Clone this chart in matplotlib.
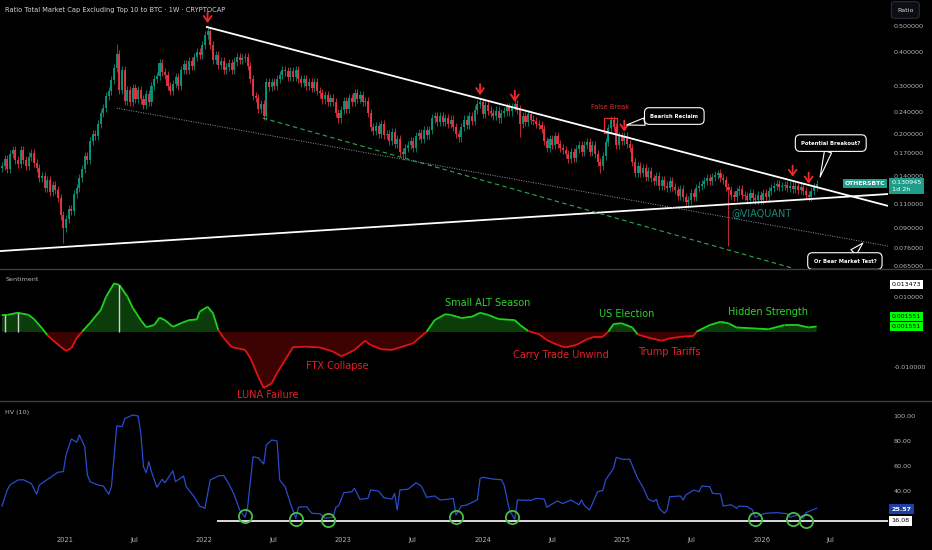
import numpy as np
import pandas as pd
import matplotlib
matplotlib.use('Agg')
import matplotlib.pyplot as plt
import matplotlib.dates as mdates
from matplotlib.patches import Rectangle
from matplotlib.lines import Line2D
from matplotlib.collections import LineCollection

# ---- data ----
# weekly closes OTHERS/BTC, first candle week of 2020-07-20
closes = [
    0.152, 0.162, 0.148, 0.168, 0.175, 0.160, 0.155, 0.174, 0.160, 0.152,
    0.165, 0.170, 0.156, 0.150, 0.138, 0.140, 0.126, 0.135, 0.122, 0.130,
    0.124, 0.116, 0.100, 0.090, 0.097, 0.106, 0.104, 0.120, 0.126, 0.138,
    0.148, 0.166, 0.160, 0.188, 0.200, 0.196, 0.218, 0.238, 0.250, 0.275,
    0.288, 0.315, 0.350, 0.395, 0.290, 0.345, 0.265, 0.290, 0.262, 0.295,
    0.270, 0.290, 0.268, 0.255, 0.280, 0.262, 0.300, 0.318, 0.328, 0.365,
    0.338, 0.330, 0.300, 0.288, 0.305, 0.325, 0.300, 0.345, 0.362, 0.345,
    0.372, 0.355, 0.385, 0.400, 0.392, 0.425, 0.465, 0.480, 0.425, 0.375,
    0.390, 0.358, 0.372, 0.345, 0.352, 0.365, 0.345, 0.370, 0.385, 0.375,
    0.380, 0.385, 0.355, 0.320, 0.275, 0.272, 0.248, 0.258, 0.232, 0.310,
    0.298, 0.312, 0.300, 0.320, 0.330, 0.345, 0.340, 0.325, 0.342, 0.325,
    0.345, 0.318, 0.308, 0.320, 0.300, 0.312, 0.296, 0.312, 0.288, 0.282,
    0.268, 0.278, 0.262, 0.272, 0.262, 0.238, 0.228, 0.245, 0.265, 0.248,
    0.272, 0.262, 0.282, 0.270, 0.278, 0.262, 0.265, 0.238, 0.212, 0.205,
    0.214, 0.200, 0.218, 0.198, 0.200, 0.188, 0.204, 0.183, 0.192, 0.172,
    0.168, 0.178, 0.182, 0.188, 0.178, 0.196, 0.202, 0.192, 0.206, 0.198,
    0.206, 0.228, 0.232, 0.222, 0.232, 0.222, 0.228, 0.218, 0.226, 0.212,
    0.200, 0.194, 0.212, 0.226, 0.216, 0.232, 0.224, 0.246, 0.258, 0.262,
    0.236, 0.256, 0.244, 0.238, 0.232, 0.244, 0.228, 0.238, 0.242, 0.252,
    0.242, 0.252, 0.258, 0.246, 0.218, 0.232, 0.222, 0.236, 0.226, 0.224,
    0.218, 0.216, 0.208, 0.188, 0.178, 0.192, 0.182, 0.196, 0.184, 0.178,
    0.174, 0.168, 0.162, 0.172, 0.163, 0.176, 0.182, 0.172, 0.182, 0.186,
    0.172, 0.182, 0.168, 0.158, 0.152, 0.166, 0.186, 0.210, 0.225, 0.212,
    0.182, 0.196, 0.188, 0.197, 0.184, 0.178, 0.158, 0.144, 0.152, 0.144,
    0.150, 0.139, 0.146, 0.138, 0.134, 0.140, 0.129, 0.135, 0.129, 0.126,
    0.134, 0.127, 0.124, 0.118, 0.125, 0.117, 0.112, 0.114, 0.121, 0.117,
    0.126, 0.129, 0.131, 0.134, 0.138, 0.134, 0.139, 0.141, 0.144, 0.137,
    0.135, 0.127, 0.124, 0.119, 0.117, 0.123, 0.125, 0.119, 0.118, 0.114,
    0.121, 0.116, 0.114, 0.119, 0.114, 0.121, 0.117, 0.123, 0.126, 0.128,
    0.131, 0.127, 0.128, 0.130, 0.126, 0.129, 0.125, 0.128, 0.124, 0.127,
    0.123, 0.119, 0.117, 0.123, 0.127, 0.1309,
]
first_open = 0.150
last_price_label = '0.130945'
wick_highs = {43: 0.430, 77: 0.500, 179: 0.270, 228: 0.232, 268: 0.147}
wick_lows = {23: 0.079, 98: 0.225, 150: 0.160, 194: 0.195, 224: 0.144,
             257: 0.107, 272: 0.077}

# red arrow markers (week index, tip price)
arrow_weeks = [77, 179, 192, 233, 296, 302]
arrow_tips = [0.513, 0.278, 0.263, 0.204, 0.139, 0.131]

# sentiment oscillator samples (week index, value)
sent_weeks = [0, 2, 6, 10, 12, 15, 17, 19, 22, 24, 26, 28, 30, 33, 37, 39, 42, 44,
              47, 49, 52, 54, 57, 59, 61, 64, 67, 70, 73, 74, 77, 79, 81, 83, 86,
              88, 91, 93, 96, 98, 101, 103, 106, 109, 114, 119, 124, 127, 129,
              132, 136, 138, 142, 146, 149, 154, 159, 162, 166, 168, 172, 176,
              179, 182, 186, 192, 194, 197, 201, 204, 208, 211, 215, 219, 222,
              225, 227, 229, 232, 236, 238, 243, 247, 250, 255, 259, 260, 265,
              269, 272, 275, 280, 287, 293, 298, 302, 305]
sent_vals = [0.0049, 0.0049, 0.0055, 0.0049, 0.0037, 0.0011, -0.0009, -0.0023,
             -0.0042, -0.0054, -0.0046, -0.0017, 0.0001, 0.0026, 0.0063, 0.0101,
             0.0139, 0.0134, 0.0101, 0.0069, 0.0034, 0.0014, 0.0020, 0.0041,
             0.0034, 0.0015, 0.0025, 0.0034, 0.0036, 0.0058, 0.0072, 0.0054,
             0.0006, -0.0017, -0.0043, -0.0046, -0.0051, -0.0074, -0.0128,
             -0.0160, -0.0146, -0.0117, -0.0080, -0.0043, -0.0042, -0.0044,
             -0.0056, -0.0069, -0.0063, -0.0051, -0.0025, -0.0037, -0.0049,
             -0.0051, -0.0044, -0.0032, 0.0001, 0.0034, 0.0051, 0.0049, 0.0040,
             0.0044, 0.0055, 0.0049, 0.0037, 0.0034, 0.0020, 0.0003, -0.0006,
             -0.0023, -0.0037, -0.0044, -0.0037, -0.0021, -0.0013, -0.0013,
             0.0001, 0.0023, 0.0025, 0.0013, -0.0007, -0.0018, -0.0025, -0.0018,
             -0.0013, -0.0011, 0.0001, 0.0020, 0.0029, 0.0025, 0.0013, 0.0011,
             0.0008, 0.0020, 0.0020, 0.0013, 0.0016]
sent_marker_weeks = [1, 6, 44]

# historical volatility (10) samples (week index, value)
hv_weeks = [0, 2, 3, 6, 8, 11, 13, 14, 18, 21, 23, 24, 26, 28, 29, 31, 32, 33, 36,
            38, 40, 41, 43, 45, 46, 49, 51, 52, 53, 54, 55, 56, 58, 60, 61, 64,
            65, 68, 69, 72, 74, 76, 78, 81, 83, 85, 87, 89, 91, 92, 94, 96, 98,
            99, 101, 103, 104, 106, 108, 110, 111, 114, 116, 119, 121, 124, 125,
            126, 128, 131, 132, 134, 137, 138, 141, 143, 146, 147, 148, 149, 152,
            155, 157, 159, 162, 164, 167, 169, 170, 172, 174, 177, 178, 179, 180,
            184, 187, 188, 190, 192, 193, 198, 200, 203, 204, 206, 208, 210, 213,
            216, 217, 218, 220, 223, 225, 226, 229, 230, 232, 235, 238, 240, 242,
            244, 245, 246, 248, 249, 250, 254, 255, 256, 259, 261, 262, 265, 266,
            269, 270, 273, 275, 276, 279, 281, 282, 284, 286, 290, 294, 295, 298,
            300, 301, 305]
hv_vals = [28, 40.8, 44.8, 48.8, 49, 46, 37.4, 44.8, 50.6, 55, 55.5, 68.8, 81.6,
           79, 84.8, 75.5, 52.8, 47.4, 44.8, 44, 37.4, 43.4, 92, 91.5, 98, 100.8,
           100, 86, 59.4, 54.6, 63.4, 55.4, 43, 49.4, 46.5, 56.2, 47.5, 52, 43.4,
           35.4, 28, 26.2, 48.8, 52, 52.5, 45.6, 36.8, 24.8, 19, 27.4, 67.4, 66.5,
           61.6, 76.8, 80.8, 80, 48.8, 43.4, 30.2, 18.2, 27, 27.5, 22.2, 21.8,
           18.2, 19, 27, 28, 38.6, 39.4, 42.2, 33.4, 34, 40.8, 40, 34.6, 33.5, 38,
           24.8, 40.8, 41.4, 46.6, 44, 35, 36, 32.8, 33.4, 34, 20.8, 28, 28.8, 32,
           33, 50.1, 51, 49.5, 49, 44.8, 24.8, 17.3, 32.8, 32.5, 34.1, 33.5, 27,
           29.6, 32, 30, 32.8, 29, 32.8, 28.5, 24.8, 39.4, 40.5, 48.8, 58.2, 67,
           65.4, 65.4, 50.1, 43, 33.4, 31.5, 33.4, 26.2, 22.2, 24.8, 35.4, 36,
           32.8, 36.8, 40.8, 39.4, 44, 43.4, 38.1, 37.6, 28, 29, 26.2, 28, 27.5,
           24.8, 19, 21, 22.2, 22.7, 21.8, 19, 21, 18.2, 22.7, 26.2]
hv_floor = 16.08
hv_circle_weeks = [91, 110, 122, 170, 191, 282, 296, 301]
hv_circle_vals = [20, 17.6, 16.8, 19.2, 19.2, 17.6, 17.6, 16.0]

year_ticks = ['2021', '2022', '2023', '2024', '2025', '2026']

BG = 'black'
TXT = '#b2b5be'
UP, DN = '#089981', '#f23645'
W, H = 932, 550


def d(s):
    return mdates.date2num(pd.Timestamp(s))


weeks = mdates.date2num(pd.date_range('2020-07-20', periods=len(closes), freq='7D'))
x_left, x_right = d('2020-07-15'), d('2026-11-28')

fig = plt.figure(figsize=(W / 100, H / 100), dpi=100, facecolor=BG)


def pane(top, bottom, **kw):
    ax = fig.add_axes([0, 1 - bottom / H, 888 / W, (bottom - top) / H], **kw)
    ax.set_facecolor(BG)
    for s in ax.spines.values():
        s.set_visible(False)
    ax.yaxis.tick_right()
    ax.tick_params(axis='y', colors=TXT, labelsize=4.6, length=0, pad=4)
    ax.tick_params(axis='x', colors=TXT, labelsize=4.8, length=0, pad=5)
    return ax


ax1 = pane(0, 268)
ax2 = pane(270, 400, sharex=ax1)
ax3 = pane(402, 530, sharex=ax1)
ax1.set_xlim(x_left, x_right)

# ---- price pane ----
c = np.array(closes)
o = np.r_[first_open, c[:-1]]
hi = np.maximum(o, c) * 1.035
lo = np.minimum(o, c) / 1.035
for k, v in wick_highs.items():
    hi[k] = v
for k, v in wick_lows.items():
    lo[k] = v
cols = np.where(c >= o, UP, DN)

ax1.set_yscale('log')
ax1.set_ylim(0.064, 0.624)
ax1.vlines(weeks, lo, hi, colors=cols, lw=0.6, alpha=0.9)
ax1.bar(weeks, np.abs(c - o), bottom=np.minimum(o, c), width=5.4, color=cols,
        linewidth=0, alpha=0.9)

# trendlines
ax1.plot([d('2022-01-08'), x_right], [0.496, 0.1085], color='white', lw=1.3)
ax1.plot([x_left, x_right], [0.0739, 0.120], color='white', lw=1.3)
ax1.plot([d('2021-05-17'), x_right], [0.249, 0.0771], color='#9598a1', lw=0.7,
         linestyle=(0, (1, 1.5)))
ax1.plot([d('2022-06-04'), x_right], [0.2288, 0.0508], color='#2fa84f', lw=0.8,
         linestyle=(0, (4, 3)))

ax1.set_yticks([0.5, 0.4, 0.3, 0.24, 0.2, 0.17, 0.14, 0.11, 0.09, 0.076, 0.065])
ax1.yaxis.set_major_formatter(plt.FuncFormatter(lambda v, p: f'{v:.6f}'))
ax1.yaxis.set_minor_locator(plt.NullLocator())
ax1.tick_params(axis='x', labelbottom=False)

for wk, tip in zip(arrow_weeks, arrow_tips):
    ax1.annotate('', xy=(weeks[wk], tip), xytext=(0, 8), textcoords='offset points',
                 arrowprops=dict(arrowstyle='->,head_length=0.4,head_width=0.28',
                                 color='#f02a2a', lw=1.3, shrinkA=0, shrinkB=0))

ax1.add_patch(Rectangle((d('2024-11-13'), 0.2014), d('2024-12-17') - d('2024-11-13'),
                        0.2288 - 0.2014, fill=False, ec='#f02a2a', lw=0.9))
ax1.text(d('2024-11-29'), 0.2513, 'False Break', color='#d32f2f', fontsize=4.8,
         ha='center', va='center')

bubble = dict(boxstyle='round,pad=1.1,rounding_size=0.9', fc='black', ec='white', lw=0.8)
wedge = dict(arrowstyle='wedge,tail_width=1.4,shrink_factor=0.5', fc='black',
             ec='white', lw=0.8, shrinkA=0, shrinkB=0)
ax1.annotate('Bearish Reclaim', xy=(d('2025-01-12'), 0.2157),
             xytext=(d('2025-05-17'), 0.2328), ha='center', va='center',
             color='white', fontsize=3.8, fontweight='bold', bbox=bubble,
             arrowprops=wedge)
ax1.annotate('Potential Breakout?', xy=(d('2026-06-03'), 0.1386),
             xytext=(d('2026-07-01'), 0.185), ha='center', va='center',
             color='white', fontsize=3.8, fontweight='bold', bbox=bubble,
             arrowprops=wedge)
ax1.annotate('Or Bear Market Test?', xy=(d('2026-09-23'), 0.0791),
             xytext=(d('2026-08-07'), 0.0679), ha='center', va='center',
             color='white', fontsize=3.8, fontweight='bold', bbox=bubble,
             arrowprops=wedge, annotation_clip=False)

ax1.text(d('2026-01-01'), 0.1021, '@VIAQUANT', color='#1fa08c', fontsize=7,
         ha='center', va='center', alpha=0.85)

ty = ax1.get_yaxis_transform()
ax1.text(0.997, closes[-1], 'OTHERSBTC', transform=ty, ha='right', va='center',
         color='white', fontsize=4.4, fontweight='bold',
         bbox=dict(boxstyle='square,pad=0.35', fc='#1e9e8a', ec='none'))
ax1.text(1.004, closes[-1] * 0.982, last_price_label + '\n1d 2h', transform=ty,
         ha='left', va='center', color='white', fontsize=4.6, linespacing=1.35,
         bbox=dict(boxstyle='square,pad=0.4', fc='#1e9e8a', ec='none'))

# ---- sentiment pane ----
sx = weeks[sent_weeks]
sv = np.array(sent_vals)
ax2.set_ylim(-0.0194, 0.0177)
ax2.fill_between(sx, sv, 0, where=sv >= 0, interpolate=True, color='#0b3d0b', lw=0)
ax2.fill_between(sx, sv, 0, where=sv <= 0, interpolate=True, color='#3d0303', lw=0)
pts = np.column_stack([sx, sv])
segs = np.stack([pts[:-1], pts[1:]], axis=1)
mid = (sv[:-1] + sv[1:]) / 2
ax2.add_collection(LineCollection(segs, colors=np.where(mid >= 0, '#1fd11f', '#e01414'),
                                  lw=1.3))
mk = weeks[sent_marker_weeks]
ax2.vlines(mk, 0, np.interp(mk, sx, sv), colors='#d0d0d0', lw=1)

ax2.set_yticks([0.01, -0.01])
ax2.yaxis.set_major_formatter(plt.FuncFormatter(lambda v, p: f'{v:.6f}'))
ax2.tick_params(axis='x', labelbottom=False)

green_t, red_t = '#2bd42b', '#e5202a'
sent_notes = [
    ('LUNA Failure', '2022-06-17', -0.0180, red_t),
    ('FTX Collapse', '2022-12-15', -0.0097, red_t),
    ('Small ALT Season', '2024-01-14', 0.0083, green_t),
    ('Carry Trade Unwind', '2024-07-23', -0.0066, red_t),
    ('US Election', '2025-01-12', 0.0051, green_t),
    ('Trump Tariffs', '2025-05-03', -0.0057, red_t),
    ('Hidden Strength', '2026-01-17', 0.0057, green_t),
]
for label, day, val, col in sent_notes:
    ax2.text(d(day), val, label, color=col, fontsize=7, ha='center', va='center')

ax2.text(0.006, 0.93, 'Sentiment', transform=ax2.transAxes, color=TXT, fontsize=4.6,
         va='center')
ty2 = ax2.get_yaxis_transform()
ax2.text(1.004, 0.013473, '0.013473', transform=ty2, va='center', fontsize=4.5,
         color='black', bbox=dict(boxstyle='square,pad=0.3', fc='white', ec='none'))
ax2.text(1.004, 0.0044, '0.001551', transform=ty2, va='center', fontsize=4.5,
         color='black', bbox=dict(boxstyle='square,pad=0.3', fc='#00ff00', ec='none'))
ax2.text(1.004, 0.0015, '0.001551', transform=ty2, va='center', fontsize=4.5,
         color='black', bbox=dict(boxstyle='square,pad=0.3', fc='#00ff00', ec='none'))

# ---- HV pane ----
ax3.set_ylim(8.8, 111.2)
ax3.plot(weeks[hv_weeks], hv_vals, color='#2a4ccc', lw=0.9)
ax3.hlines(hv_floor, d('2022-02-03'), x_right, color='white', lw=1.2)
ax3.plot(weeks[hv_circle_weeks], hv_circle_vals, 'o', mfc='none', mec='#46c046',
         ms=9.5, mew=1.3)
ax3.set_yticks([100, 80, 60, 40])
ax3.yaxis.set_major_formatter(plt.FuncFormatter(lambda v, p: f'{v:.2f}'))
ax3.text(0.006, 0.92, 'HV (10)', transform=ax3.transAxes, color=TXT, fontsize=4.6,
         va='center')
ty3 = ax3.get_yaxis_transform()
ax3.text(1.004, 25.57, '25.57', transform=ty3, va='center', fontsize=4.6,
         color='white', fontweight='bold',
         bbox=dict(boxstyle='square,pad=0.35', fc='#1e3fa8', ec='none'))
ax3.text(1.004, hv_floor, f'{hv_floor:.2f}', transform=ty3, va='center', fontsize=4.6,
         color='black', bbox=dict(boxstyle='square,pad=0.35', fc='white', ec='none'))

ticks, labels = [], []
for y in year_ticks:
    ticks += [d(f'{y}-01-01'), d(f'{y}-07-01')]
    labels += [y, 'Jul']
ax3.set_xticks(ticks)
ax3.set_xticklabels(labels)

# ---- chrome ----
fig.text(5 / W, 1 - 10 / H, 'Ratio Total Market Cap Excluding Top 10 to BTC · 1W · CRYPTOCAP',
         color='#d1d4dc', fontsize=4.8, va='center')
fig.text(897 / W, 1 - 10 / H, 'Ratio', color='#d1d4dc', fontsize=4.6, va='center',
         bbox=dict(boxstyle='round,pad=0.9,rounding_size=0.5', fc='#0c0e15', ec='#363a45',
                   lw=0.6))
for yy in (269, 401):
    fig.add_artist(Line2D([0, 1], [1 - yy / H] * 2, color='#3a3d46', lw=1))

fig.savefig('out.png', dpi=100, facecolor=BG)
